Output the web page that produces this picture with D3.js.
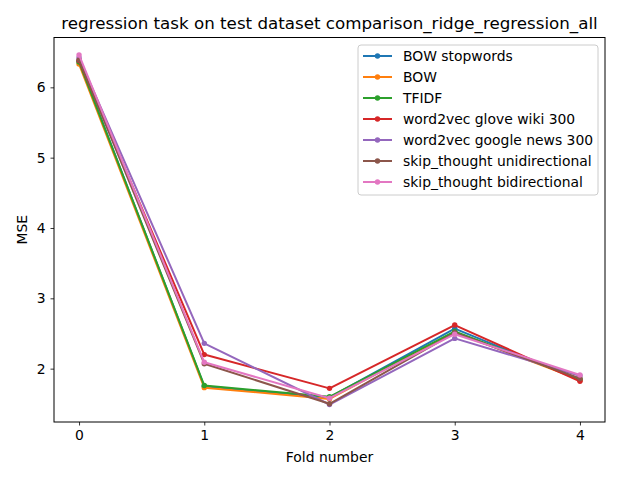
<!DOCTYPE html>
<html>
<head>
<meta charset="utf-8">
<script src="https://cdn.jsdelivr.net/npm/d3@7"></script>
<style>
  body { margin: 0; background: #fff; }
  svg { font-family: "DejaVu Sans", sans-serif; }
</style>
</head>
<body>
<svg id="chart"></svg>
<script>
// data
const folds = [0, 1, 2, 3, 4];
const seriesNames = [
  "BOW stopwords",
  "BOW",
  "TFIDF",
  "word2vec glove wiki 300",
  "word2vec google news 300",
  "skip_thought unidirectional",
  "skip_thought bidirectional"
];
const bowStopwords = [6.37, 1.75, 1.59, 2.57, 1.84];
const bow = [6.33, 1.73, 1.57, 2.52, 1.84];
const tfidf = [6.36, 1.76, 1.60, 2.53, 1.85];
const gloveWiki = [6.38, 2.20, 1.72, 2.62, 1.82];
const googleNews = [6.42, 2.36, 1.49, 2.43, 1.90];
const skipUni = [6.39, 2.07, 1.50, 2.51, 1.86];
const skipBi = [6.46, 2.09, 1.58, 2.49, 1.91];
const seriesValues = [bowStopwords, bow, tfidf, gloveWiki, googleNews, skipUni, skipBi];
const colors = ["#1f77b4", "#ff7f0e", "#2ca02c", "#d62728", "#9467bd", "#8c564b", "#e377c2"];
const yTicks = [2, 3, 4, 5, 6];

const width = 640;
const height = 480;
const margin = { top: 37.5, right: 35, bottom: 58, left: 54 };

const svg = d3.select("#chart").attr("width", width).attr("height", height);

const allVals = seriesValues.flat();
const yMin = d3.min(allVals), yMax = d3.max(allVals);
const yPad = (yMax - yMin) * 0.05;

const x = d3.scaleLinear()
  .domain([-0.2, 4.2])
  .range([margin.left, width - margin.right]);

const y = d3.scaleLinear()
  .domain([yMin - yPad, yMax + yPad])
  .range([height - margin.bottom, margin.top]);

// axes
const xAxis = svg.append("g")
  .attr("transform", `translate(0,${height - margin.bottom})`)
  .call(d3.axisBottom(x).tickValues(folds).tickFormat(d3.format("d")).tickSizeOuter(0).tickSize(3.5).tickPadding(5));
const yAxis = svg.append("g")
  .attr("transform", `translate(${margin.left},0)`)
  .call(d3.axisLeft(y).tickValues(yTicks).tickFormat(d3.format("d")).tickSizeOuter(0).tickSize(3.5).tickPadding(5));

[xAxis, yAxis].forEach(a => {
  a.select(".domain").remove();
  a.selectAll("text").style("font-size", "13.9px").style("font-family", "DejaVu Sans").attr("fill", "#000");
  a.selectAll(".tick line").attr("stroke", "#000").attr("stroke-width", 0.8);
});

// lines
const line = d3.line()
  .x((d, i) => x(folds[i]))
  .y(d => y(d));

seriesValues.forEach((vals, s) => {
  const g = svg.append("g");
  g.append("path")
    .datum(vals)
    .attr("d", line)
    .attr("fill", "none")
    .attr("stroke", colors[s])
    .attr("stroke-width", 2)
    .attr("stroke-linejoin", "round");
  g.selectAll("circle")
    .data(vals)
    .join("circle")
    .attr("cx", (d, i) => x(folds[i]))
    .attr("cy", d => y(d))
    .attr("r", 2.7)
    .attr("fill", colors[s]);
});

// frame
svg.append("rect")
  .attr("x", margin.left)
  .attr("y", margin.top)
  .attr("width", width - margin.left - margin.right)
  .attr("height", height - margin.top - margin.bottom)
  .attr("fill", "none")
  .attr("stroke", "#000")
  .attr("stroke-width", 1);

// title and labels
svg.append("text")
  .attr("x", (margin.left + width - margin.right) / 2)
  .attr("y", 29)
  .attr("text-anchor", "middle")
  .attr("font-size", "16.7px")
  .text("regression task on test dataset comparison_ridge_regression_all");

svg.append("text")
  .attr("x", (margin.left + width - margin.right) / 2)
  .attr("y", 462)
  .attr("text-anchor", "middle")
  .attr("font-size", "13.9px")
  .text("Fold number");

svg.append("text")
  .attr("transform", `translate(27,${(margin.top + height - margin.bottom) / 2}) rotate(-90)`)
  .attr("text-anchor", "middle")
  .attr("font-size", "13.9px")
  .text("MSE");

// legend
const legend = svg.append("g").attr("transform", "translate(358,45)");
legend.append("rect")
  .attr("width", 240)
  .attr("height", 150)
  .attr("rx", 3)
  .attr("fill", "#fff")
  .attr("fill-opacity", 0.8)
  .attr("stroke", "#ccc");

seriesNames.forEach((name, i) => {
  const ly = 11 + i * 21;
  legend.append("line")
    .attr("x1", 5).attr("x2", 34)
    .attr("y1", ly).attr("y2", ly)
    .attr("stroke", colors[i]).attr("stroke-width", 2);
  legend.append("circle")
    .attr("cx", 19.5).attr("cy", ly).attr("r", 2.7)
    .attr("fill", colors[i]);
  legend.append("text")
    .attr("x", 45).attr("y", ly)
    .attr("dy", "0.35em")
    .attr("font-size", "13.9px")
    .text(name);
});
</script>
</body>
</html>
